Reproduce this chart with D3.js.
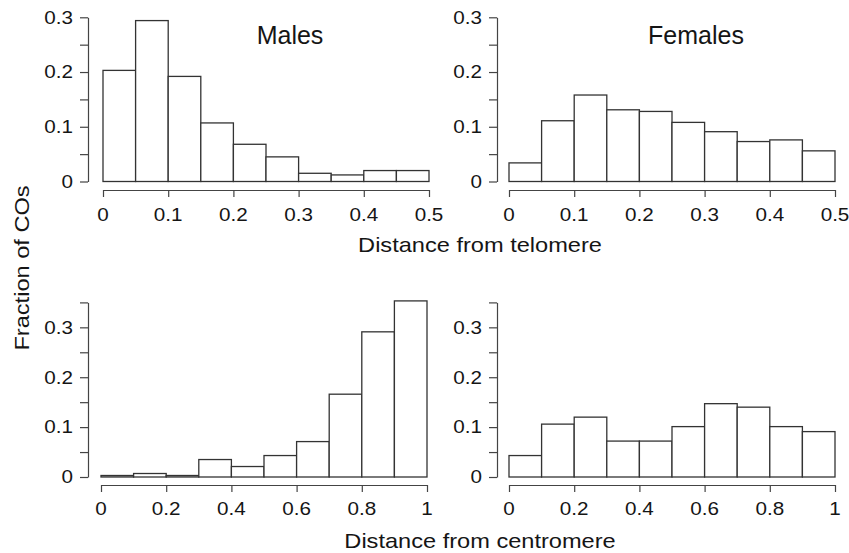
<!DOCTYPE html>
<html>
<head>
<meta charset="utf-8">
<script src="https://cdn.jsdelivr.net/npm/d3@7"></script>
<style>
  html, body { margin: 0; padding: 0; background: #fff; }
  svg { display: block; font-family: "Liberation Sans", Arial, Helvetica, sans-serif; }
</style>
</head>
<body>
<svg id="chart" width="849" height="553"></svg>
<script>
// ---- data ----
const telomereEdges = [0, 0.05, 0.1, 0.15, 0.2, 0.25, 0.3, 0.35, 0.4, 0.45, 0.5];
const centromereEdges = [0, 0.1, 0.2, 0.3, 0.4, 0.5, 0.6, 0.7, 0.8, 0.9, 1];
const malesTelomere = [0.203, 0.294, 0.192, 0.107, 0.068, 0.045, 0.015, 0.012, 0.020, 0.020];
const femalesTelomere = [0.034, 0.111, 0.158, 0.131, 0.128, 0.108, 0.091, 0.073, 0.076, 0.056];
const malesCentromere = [0.003, 0.007, 0.003, 0.035, 0.021, 0.043, 0.071, 0.166, 0.291, 0.353];
const femalesCentromere = [0.043, 0.106, 0.120, 0.072, 0.072, 0.101, 0.147, 0.140, 0.101, 0.091];
const telomereTicks = [0, 0.1, 0.2, 0.3, 0.4, 0.5];
const centromereTicks = [0, 0.2, 0.4, 0.6, 0.8, 1];
const yTicksTop = [0, 0.05, 0.1, 0.15, 0.2, 0.25, 0.3];
const yTicksBottom = [0, 0.05, 0.1, 0.15, 0.2, 0.25, 0.3, 0.35];
const yLabels = [0, 0.1, 0.2, 0.3];
const panelTitles = ["Males", "Females"];
const xTitles = ["Distance from telomere", "Distance from centromere"];
const yTitle = "Fraction of COs";

// ---- layout ----
const svg = d3.select("#chart");
const ink = "#151515";
const lineCol = "#444";
const sx = 1.18; // horizontal text stretch

function stretchedText(g, x, y, txt, size, anchor, extra) {
  const t = g.append("text")
    .attr("transform", `translate(${x},${y}) scale(${sx},1)`)
    .attr("text-anchor", anchor)
    .attr("font-size", size)
    .attr("fill", ink)
    .text(txt);
  if (extra) extra(t);
  return t;
}

const panels = [
  { edges: telomereEdges, values: malesTelomere, xTicks: telomereTicks, yTicks: yTicksTop,
    xRange: [103, 429], yAxisX: 88, yDomain: [0, 0.3], yRange: [181.5, 17.3], xAxisY: 190, labelDy: 31, title: panelTitles[0] },
  { edges: telomereEdges, values: femalesTelomere, xTicks: telomereTicks, yTicks: yTicksTop,
    xRange: [509, 835], yAxisX: 497, yDomain: [0, 0.3], yRange: [181.5, 17.3], xAxisY: 190, labelDy: 31, title: panelTitles[1] },
  { edges: centromereEdges, values: malesCentromere, xTicks: centromereTicks, yTicks: yTicksBottom,
    xRange: [101, 427], yAxisX: 88, yDomain: [0, 0.35], yRange: [477, 302.4], xAxisY: 485, labelDy: 30 },
  { edges: centromereEdges, values: femalesCentromere, xTicks: centromereTicks, yTicks: yTicksBottom,
    xRange: [509, 835], yAxisX: 497, yDomain: [0, 0.35], yRange: [477, 302.4], xAxisY: 485, labelDy: 30 }
];

panels.forEach(p => {
  const x = d3.scaleLinear().domain([p.edges[0], p.edges[p.edges.length - 1]]).range(p.xRange);
  const y = d3.scaleLinear().domain(p.yDomain).range(p.yRange);
  const g = svg.append("g");

  // bars
  g.selectAll("rect.bar").data(p.values).enter().append("rect")
    .attr("class", "bar")
    .attr("x", (d, i) => x(p.edges[i]))
    .attr("width", (d, i) => x(p.edges[i + 1]) - x(p.edges[i]))
    .attr("y", d => y(d))
    .attr("height", d => y(0) - y(d))
    .attr("fill", "#fff")
    .attr("stroke", "#333")
    .attr("stroke-width", 1.3);

  // y axis
  const ya = g.append("g").attr("transform", `translate(${p.yAxisX},0)`)
    .call(d3.axisLeft(y).tickValues(p.yTicks).tickSize(8).tickSizeOuter(0).tickFormat(""));
  ya.selectAll("path, line").attr("stroke", lineCol).attr("stroke-width", 1.2);
  yLabels.forEach(v => {
    stretchedText(g, p.yAxisX - 15, y(v), String(v), 17.5, "end", t => t.attr("dy", "0.36em"));
  });

  // x axis
  const xa = g.append("g").attr("transform", `translate(0,${p.xAxisY})`)
    .call(d3.axisBottom(x).tickValues(p.xTicks).tickSize(7).tickSizeOuter(0).tickFormat(""));
  xa.selectAll("path, line").attr("stroke", lineCol).attr("stroke-width", 1.2);
  p.xTicks.forEach(v => {
    stretchedText(g, x(v), p.xAxisY + p.labelDy, String(v), 17.5, "middle");
  });

  if (p.title) {
    g.append("text")
      .attr("x", (p.xRange[0] + p.xRange[1]) / 2 + 24)
      .attr("y", 44)
      .attr("text-anchor", "middle")
      .attr("font-size", 25)
      .attr("fill", ink)
      .text(p.title);
  }
});

// axis titles
stretchedText(svg, 480, 252, xTitles[0], 20, "middle");
stretchedText(svg, 480, 548, xTitles[1], 20, "middle");
svg.append("text")
  .attr("transform", `translate(29,268) rotate(-90) scale(${sx},1)`)
  .attr("text-anchor", "middle")
  .attr("font-size", 20)
  .attr("fill", ink)
  .text(yTitle);
</script>
</body>
</html>
